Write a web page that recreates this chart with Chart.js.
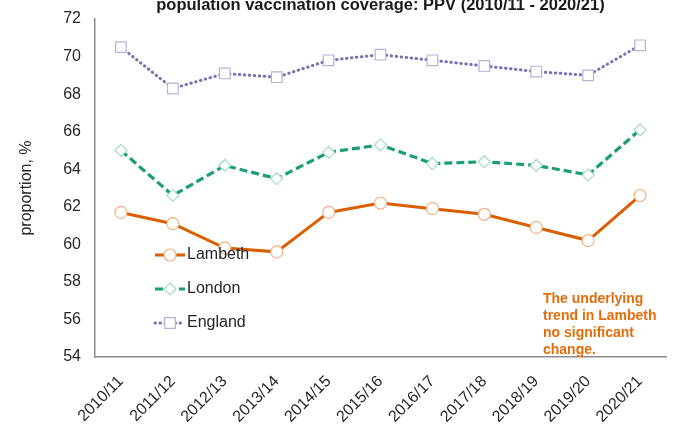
<!DOCTYPE html>
<html>
<head>
<meta charset="utf-8">
<script src="https://cdn.jsdelivr.net/npm/chart.js@4/dist/chart.umd.min.js"></script>
<style>
  html, body { margin: 0; padding: 0; background: #ffffff; }
  #wrap { width: 692px; height: 432px; position: relative; }
</style>
</head>
<body>
<div id="wrap"><canvas id="c" width="692" height="432"></canvas></div>
<script>
// Seasons on the x axis
const seasons = ['2010/11', '2011/12', '2012/13', '2013/14', '2014/15', '2015/16',
                 '2016/17', '2017/18', '2018/19', '2019/20', '2020/21'];

// PPV coverage, % of eligible population
const lambeth = [61.7, 61.1, 59.8, 59.6, 61.7, 62.2, 61.9, 61.6, 60.9, 60.2, 62.6];
const london  = [65.0, 62.6, 64.2, 63.5, 64.9, 65.3, 64.3, 64.4, 64.2, 63.7, 66.1];
const england = [70.5, 68.3, 69.1, 68.9, 69.8, 70.1, 69.8, 69.5, 69.2, 69.0, 70.6];

const titleText = 'population vaccination coverage: PPV (2010/11 - 2020/21)';
const noteLines = ['The underlying', 'trend in Lambeth', 'no significant', 'change.'];

const FONT = 'Arial, "Liberation Sans", sans-serif';

// Title line drawn above the plot area
const titlePlugin = {
  id: 'topTitle',
  afterDraw(chart) {
    const { ctx, chartArea } = chart;
    ctx.save();
    ctx.font = 'bold 16.5px ' + FONT;
    ctx.fillStyle = '#1a1a1a';
    ctx.textAlign = 'center';
    ctx.textBaseline = 'alphabetic';
    ctx.fillText(titleText, (chartArea.left + chartArea.right) / 2, 10);
    ctx.restore();
  }
};

// Note about the Lambeth trend, lower right of the plot
const notePlugin = {
  id: 'trendNote',
  afterDraw(chart) {
    const { ctx } = chart;
    ctx.save();
    ctx.font = 'bold 14px ' + FONT;
    ctx.fillStyle = '#E46C0A';
    ctx.textAlign = 'left';
    ctx.textBaseline = 'middle';
    noteLines.forEach((t, i) => ctx.fillText(t, 543, 299 + i * 17));
    ctx.restore();
  }
};

function marker(ctx, style, x, y, r) {
  ctx.beginPath();
  if (style === 'circle') {
    ctx.arc(x, y, r, 0, Math.PI * 2);
  } else if (style === 'rectRot') {
    ctx.moveTo(x, y - r); ctx.lineTo(x + r, y); ctx.lineTo(x, y + r); ctx.lineTo(x - r, y);
    ctx.closePath();
  } else {
    const s = r * Math.SQRT1_2;
    ctx.rect(x - s, y - s, 2 * s, 2 * s);
  }
  ctx.fill();
  ctx.stroke();
}

// Legend drawn inside the plot area
const legendPlugin = {
  id: 'innerLegend',
  afterDraw(chart) {
    const { ctx } = chart;
    const rows = [255, 289, 323];
    chart.data.datasets.forEach((ds, i) => {
      const y = rows[i];
      ctx.save();
      ctx.strokeStyle = ds.borderColor;
      ctx.lineWidth = ds.borderWidth;
      ctx.lineCap = ds.borderCapStyle || 'butt';
      ctx.setLineDash(ds.borderDash || []);
      ctx.beginPath();
      ctx.moveTo(155, y);
      ctx.lineTo(185, y);
      ctx.stroke();
      ctx.setLineDash([]);
      ctx.fillStyle = '#ffffff';
      ctx.strokeStyle = ds.pointBorderColor;
      ctx.lineWidth = ds.pointBorderWidth;
      marker(ctx, ds.pointStyle, 170, y, ds.pointStyle === 'rect' ? 7.5 : 6);
      ctx.fillStyle = '#262626';
      ctx.font = '16px ' + FONT;
      ctx.textAlign = 'left';
      ctx.textBaseline = 'middle';
      ctx.fillText(ds.label, 187, y);
      ctx.restore();
    });
  }
};

new Chart(document.getElementById('c'), {
  type: 'line',
  data: {
    labels: seasons,
    datasets: [
      {
        label: 'Lambeth', data: lambeth,
        borderColor: '#D95F02', borderWidth: 3,
        pointStyle: 'circle', pointRadius: 6, pointBorderWidth: 1.2,
        pointBackgroundColor: '#ffffff', pointBorderColor: '#F4B183'
      },
      {
        label: 'London', data: london,
        borderColor: '#1B9E77', borderWidth: 3.2, borderDash: [8, 4],
        pointStyle: 'rectRot', pointRadius: 6, pointBorderWidth: 1.2,
        pointBackgroundColor: '#ffffff', pointBorderColor: '#A3DCC6'
      },
      {
        label: 'England', data: england,
        borderColor: '#7570B3', borderWidth: 3, borderDash: [0.5, 4.5], borderCapStyle: 'round',
        pointStyle: 'rect', pointRadius: 7.5, pointBorderWidth: 1.2,
        pointBackgroundColor: '#ffffff', pointBorderColor: '#B4B1DA'
      }
    ]
  },
  options: {
    responsive: false,
    animation: false,
    layout: { padding: { top: 19, right: 26, bottom: 0, left: 0 } },
    plugins: {
      legend: { display: false },
      title: { display: false },
      tooltip: { enabled: false }
    },
    scales: {
      x: {
        offset: true,
        grid: { display: false, drawTicks: false, tickLength: 0 },
        border: { display: true, color: '#8c8c8c', width: 1.5 },
        ticks: {
          color: '#262626', font: { family: FONT, size: 16 },
          minRotation: 45, maxRotation: 45, padding: 15, autoSkip: false
        },
        afterFit(scale) {
          scale.height = 75;
          scale.paddingLeft = 0;
          scale.paddingRight = 0;
        }
      },
      y: {
        min: 54, max: 72,
        grid: { display: false, drawTicks: false, tickLength: 0 },
        border: { display: true, color: '#8c8c8c', width: 1.5 },
        ticks: { stepSize: 2, color: '#262626', font: { family: FONT, size: 16 }, padding: 14 },
        title: {
          display: true, text: 'proportion, %', color: '#262626',
          font: { family: FONT, size: 16 }, padding: { top: 17, bottom: 0 }
        },
        afterFit(scale) {
          scale.width = 95;
          scale.paddingTop = 0;
          scale.paddingBottom = 0;
        }
      }
    }
  },
  plugins: [titlePlugin, notePlugin, legendPlugin]
});
</script>
</body>
</html>
